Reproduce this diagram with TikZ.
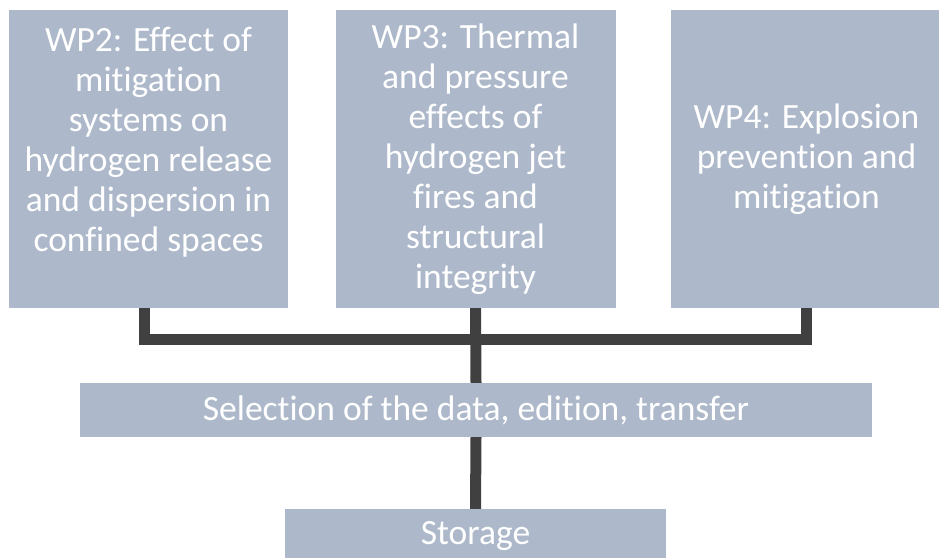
\documentclass[tikz,border=0pt]{standalone}
\usepackage{fontspec}
\setmainfont{Carlito}[Ligatures=NoCommon]
\definecolor{boxfill}{HTML}{ADB9CA}
\definecolor{conncol}{HTML}{404040}
\begin{document}
\begin{tikzpicture}[x=1pt,y=-1pt,
  box/.style={fill=boxfill, draw=none, inner sep=0pt, align=center, text=white,
    font=\fontsize{35.5}{40}\selectfont},
  connector/.style={draw=conncol, line width=11pt, line join=miter, line cap=butt}]
\useasboundingbox (0,0) rectangle (939,557);
\clip (0,0) rectangle (939,557);
\node[box, minimum width=279pt, minimum height=298pt] (wp2) at (148.5,159)
  {WP2: Effect of\\mitigation\\systems on\\hydrogen release\\and dispersion in\\confined spaces\\[-12pt]\strut};
\node[box, minimum width=280pt, minimum height=298pt] (wp3) at (475.5,159)
  {WP3: Thermal\\and pressure\\effects of\\hydrogen jet\\fires and\\structural\\integrity};
\node[box, minimum width=272pt, minimum height=298pt] (wp4) at (806.5,159)
  {WP4: Explosion\\prevention and\\mitigation};
\node[box, minimum width=792pt, minimum height=54pt] (sel) at (476,410)
  {Selection of the data, edition, transfer};
\node[box, minimum width=381pt, minimum height=54pt] (sto) at (475.5,536)
  {Storage};
\coordinate (j) at (475.5,339.5);
\draw[connector] ([xshift=-4pt]wp2.south) |- (j) -| (wp4.south);
\draw[connector] (wp3.south) -- (sel.north);
\draw[connector] (sel.south) -- (sto.north);
\end{tikzpicture}
\end{document}
